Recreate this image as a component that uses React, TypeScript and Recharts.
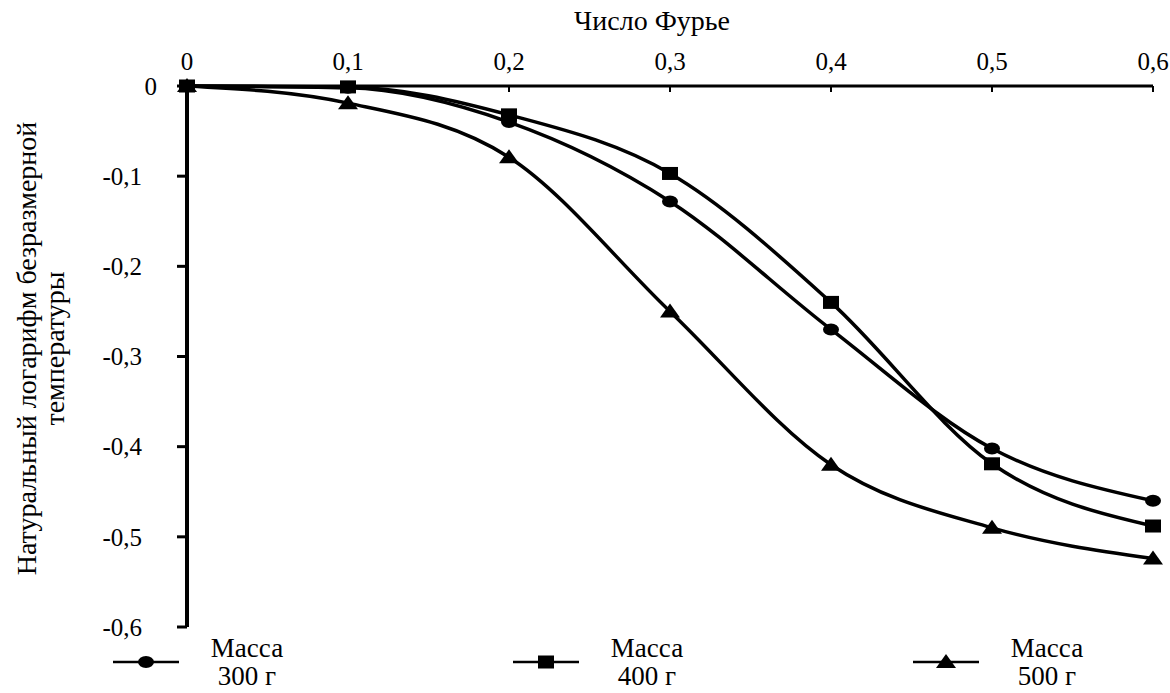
import React from 'react';
import { LineChart, Line, XAxis, YAxis, Legend } from 'recharts';

// Fourier number (x) and ln of dimensionless temperature for each mass
const fourier = [0, 0.1, 0.2, 0.3, 0.4, 0.5, 0.6];
const mass300 = [0, -0.002, -0.04, -0.128, -0.27, -0.402, -0.46];
const mass400 = [0, -0.001, -0.032, -0.097, -0.24, -0.419, -0.488];
const mass500 = [0, -0.019, -0.079, -0.25, -0.42, -0.49, -0.524];

const xTicks = [0, 0.1, 0.2, 0.3, 0.4, 0.5, 0.6];
const yTicks = [0, -0.1, -0.2, -0.3, -0.4, -0.5, -0.6];

const seriesList = [
  { key: 'm500', label: '500 г', shape: 'triangle' },
  { key: 'm300', label: '300 г', shape: 'circle' },
  { key: 'm400', label: '400 г', shape: 'square' },
];
const legendOrder = ['m300', 'm400', 'm500'];

const chartData = fourier.map((f, i) => ({
  f,
  m300: mass300[i],
  m400: mass400[i],
  m500: mass500[i],
}));

const FONT = '"Liberation Serif", "Times New Roman", serif';

const fmt = (v: number) => {
  if (v === 0) return '0';
  return v.toFixed(1).replace('.', ',');
};

const Marker = ({ shape, cx, cy }: { shape: string; cx: number; cy: number }) => {
  if (shape === 'circle') return <ellipse cx={cx} cy={cy} rx={8} ry={6} fill="#000" />;
  if (shape === 'square') return <rect x={cx - 8} y={cy - 6.5} width={16} height={13} fill="#000" />;
  return <polygon points={`${cx - 10},${cy + 6} ${cx + 10},${cy + 6} ${cx},${cy - 8}`} fill="#000" />;
};

const XTick = (props: any) => {
  const { x, y, payload } = props;
  return (
    <g>
      <line x1={x} x2={x} y1={y + 16} y2={y + 22} stroke="#000" strokeWidth={2} />
      <text x={x} y={y} textAnchor="middle" fontSize={25} fontFamily={FONT} fill="#000">
        {fmt(payload.value)}
      </text>
    </g>
  );
};

const YTick = (props: any) => {
  const { x, y, payload } = props;
  // the zero label sits a bit closer to the axis in the original
  const shift = payload.value === 0 ? 15 : 0;
  return (
    <text x={x + shift} y={y} dy="0.35em" textAnchor="end" fontSize={25} fontFamily={FONT} fill="#000">
      {fmt(payload.value)}
    </text>
  );
};

const YLabel = (props: any) => {
  const { viewBox } = props;
  const cy = viewBox.y + viewBox.height / 2 - 8;
  return (
    <g fontFamily={FONT} fontSize={28} fill="#000">
      <text x={36} y={cy} textAnchor="middle" transform={`rotate(-90, 36, ${cy})`}>
        Натуральный логарифм безразмерной
      </text>
      <text x={64} y={cy} textAnchor="middle" transform={`rotate(-90, 64, ${cy})`}>
        температуры
      </text>
    </g>
  );
};

const XLabel = (props: any) => {
  const { viewBox } = props;
  const cx = viewBox.x + viewBox.width / 2 - 18;
  return (
    <text x={cx} y={viewBox.y - 16} textAnchor="middle" fontFamily={FONT} fontSize={28} fill="#000">
      Число Фурье
    </text>
  );
};

const LegendContent = () => (
  <div style={{ display: 'flex', paddingLeft: 113, fontFamily: FONT, fontSize: 27, color: '#000' }}>
    {legendOrder.map((k) => {
      const s = seriesList.find((x) => x.key === k)!;
      return (
        <div key={k} style={{ width: 400, flexShrink: 0, display: 'flex', alignItems: 'center' }}>
          <svg width={66} height={20}>
            <line x1={0} x2={66} y1={10} y2={10} stroke="#000" strokeWidth={2.5} />
            <Marker shape={s.shape} cx={33} cy={10} />
          </svg>
          <div style={{ width: 136, textAlign: 'center', lineHeight: '28px' }}>
            <div>Масса</div>
            <div>{s.label}</div>
          </div>
        </div>
      );
    })}
  </div>
);

const App = () => {
  return (
    <div style={{ position: 'absolute', left: 0, top: 0, background: '#fff' }}>
      <LineChart
        width={1170}
        height={693}
        data={chartData}
        margin={{ top: 46, right: 17, left: 0, bottom: 66 }}
      >
        <XAxis
          dataKey="f"
          type="number"
          orientation="top"
          domain={[0, 0.6]}
          ticks={xTicks}
          height={40}
          tickSize={0}
          tickMargin={16}
          tick={<XTick />}
          axisLine={{ stroke: '#000', strokeWidth: 3 }}
          tickLine={false}
          label={{ content: <XLabel /> }}
        />
        <YAxis
          type="number"
          domain={[-0.6, 0]}
          ticks={yTicks}
          width={187}
          tickSize={10}
          tickMargin={35}
          tick={<YTick />}
          axisLine={{ stroke: '#000', strokeWidth: 4 }}
          tickLine={{ stroke: '#000', strokeWidth: 3 }}
          label={{ content: <YLabel /> }}
        />
        <Legend
          layout="horizontal"
          verticalAlign="middle"
          align="center"
          content={<LegendContent />}
          wrapperStyle={{ top: 634, left: 0, width: 1170 }}
        />
        {seriesList.map((s) => (
          <Line
            key={s.key}
            dataKey={s.key}
            type="monotone"
            stroke="#000"
            strokeWidth={3.5}
            isAnimationActive={false}
            dot={(p: any) => <Marker key={`${s.key}-${p.index}`} shape={s.shape} cx={p.cx} cy={p.cy} />}
            activeDot={false}
          />
        ))}
      </LineChart>
    </div>
  );
};

export default App;
